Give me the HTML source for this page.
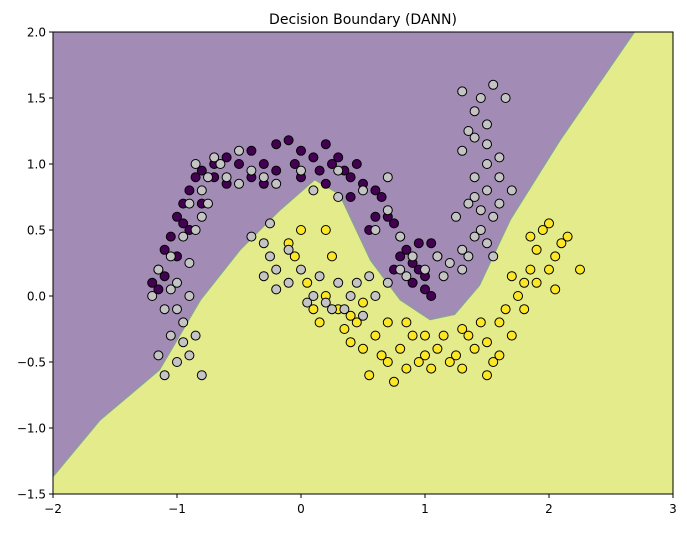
<!DOCTYPE html>
<html><head><meta charset="utf-8"><style>
body{margin:0;background:#fff;}
svg text{font-family:"DejaVu Sans","Liberation Sans",sans-serif;}
</style></head><body>
<svg id="chart" width="687" height="528"></svg>
<script>
const xTicks=[-2,-1,0,1,2,3];
const yTicks=[-1.5,-1.0,-0.5,0.0,0.5,1.0,1.5,2.0];
const boundaryX=[-2,-1.62,-1.14,-0.81,-0.49,-0.17,0.11,0.31,0.56,0.80,1.04,1.24,1.44,1.69,2.09,2.69];
const boundaryY=[-1.37,-0.94,-0.56,-0.03,0.35,0.65,0.88,0.77,0.27,-0.03,-0.18,-0.14,0.08,0.58,1.18,2.0];
const purplePts=[[-1.2,0.1],[-1.15,0.2],[-1.1,0.35],[-1.05,0.45],[-1.0,0.6],[-0.95,0.7],[-0.9,0.8],[-0.85,0.9],[-0.8,0.95],[-0.7,1.0],[-0.6,1.05],[-0.5,1.0],[-0.4,1.1],[-0.3,1.0],[-0.2,1.15],[-0.1,1.18],[0.0,1.1],[0.1,1.05],[0.2,1.15],[0.25,1.0],[0.35,0.95],[0.4,0.9],[0.5,0.85],[0.6,0.8],[0.65,0.75],[0.7,0.6],[0.75,0.55],[0.8,0.45],[0.85,0.35],[0.9,0.25],[0.95,0.2],[1.0,0.15],[1.05,0.4],[1.1,0.3],[1.0,0.05],[0.9,0.1],[-1.1,0.15],[-1.0,0.3],[-0.9,0.5],[-0.8,0.7],[-0.6,0.85],[-0.4,0.9],[-0.2,0.95],[0.0,0.9],[0.2,0.85],[0.4,0.75],[0.6,0.6],[0.8,0.3],[-0.05,1.0],[-0.3,0.85],[0.15,0.95],[0.55,0.5],[0.95,0.4],[-1.15,0.05],[-0.95,0.55],[-0.7,0.9],[0.3,1.05],[0.45,1.0],[0.75,0.2],[1.05,0.0]];
const yellowPts=[[0.0,0.5],[-0.1,0.4],[-0.05,0.3],[0.05,0.1],[0.1,-0.1],[0.15,-0.2],[0.2,0.5],[0.25,0.3],[0.3,-0.1],[0.35,-0.25],[0.4,-0.35],[0.45,-0.2],[0.5,-0.4],[0.55,-0.6],[0.6,-0.3],[0.65,-0.45],[0.7,-0.5],[0.75,-0.65],[0.8,-0.4],[0.85,-0.55],[0.9,-0.3],[0.95,-0.5],[1.0,-0.45],[1.05,-0.55],[1.1,-0.4],[1.15,-0.3],[1.2,-0.5],[1.25,-0.45],[1.3,-0.55],[1.35,-0.3],[1.4,-0.4],[1.45,-0.2],[1.5,-0.35],[1.55,-0.5],[1.6,-0.2],[1.65,-0.1],[1.7,-0.3],[1.75,0.0],[1.8,0.1],[1.85,0.2],[1.9,0.35],[1.95,0.5],[2.0,0.55],[2.05,0.3],[2.1,0.4],[2.15,0.45],[2.25,0.2],[1.9,0.1],[2.0,0.2],[1.8,-0.1],[1.6,-0.45],[1.3,-0.25],[0.85,-0.2],[0.5,-0.05],[0.2,0.0],[1.5,-0.6],[0.7,-0.2],[1.0,-0.3],[1.7,0.15],[2.05,0.05],[1.85,0.45],[0.4,-0.15]];
const grayPts=[[-1.1,-0.6],[-1.0,-0.5],[-0.9,-0.45],[-0.8,-0.6],[-1.05,-0.3],[-0.95,-0.2],[-1.1,-0.1],[-1.2,0.0],[-0.9,0.0],[-1.0,0.1],[-1.15,0.2],[-1.05,0.3],[-0.9,0.25],[-0.95,0.45],[-0.85,0.5],[-0.8,0.6],[-0.9,0.7],[-0.8,0.8],[-0.75,0.9],[-0.85,1.0],[-0.7,1.05],[-0.6,0.9],[-0.5,1.1],[-0.5,0.85],[-0.3,0.9],[-0.4,0.95],[-0.2,0.85],[-1.0,-0.1],[-1.05,0.05],[-0.95,-0.35],[-1.15,-0.45],[-0.85,-0.3],[-0.75,0.7],[-0.65,1.0],[-0.3,0.4],[-0.2,0.2],[-0.25,0.3],[-0.1,0.35],[-0.2,0.05],[-0.1,0.1],[0.0,0.2],[0.1,0.0],[0.15,0.15],[0.2,-0.05],[0.3,0.1],[0.35,-0.1],[0.4,0.0],[0.45,0.1],[0.5,-0.15],[0.6,0.0],[0.7,0.1],[0.8,0.2],[0.85,0.15],[0.9,0.3],[1.0,0.2],[1.1,0.3],[1.2,0.25],[1.3,0.35],[1.35,0.3],[1.4,0.45],[1.45,0.5],[1.5,0.4],[1.55,0.6],[1.6,0.7],[1.5,0.8],[1.4,0.9],[1.3,1.1],[1.5,1.0],[1.6,1.05],[1.4,1.2],[1.5,1.3],[1.45,1.5],[1.55,1.6],[1.3,1.55],[1.4,1.4],[1.65,1.5],[1.35,0.7],[1.25,0.6],[1.45,0.65],[1.55,0.3],[1.7,0.8],[0.3,0.75],[0.1,0.8],[0.5,0.8],[0.7,0.65],[0.6,0.5],[0.8,0.45],[0.0,0.95],[0.3,0.95],[0.7,0.9],[0.55,0.15],[0.25,-0.1],[1.15,0.15],[1.3,0.2],[1.4,0.75],[1.6,0.9],[1.35,1.25],[1.5,1.15],[-0.4,0.45],[-0.3,0.15],[-0.25,0.55],[0.05,-0.05]];

const L=53,R=673,T=32,B=494,x0=-2,x1=3,y0=-1.5,y1=2.0;
const sx=v=>L+(v-x0)/(x1-x0)*(R-L);
const sy=v=>B-(v-y0)/(y1-y0)*(B-T);
const svg=document.getElementById('chart');
const NS='http://www.w3.org/2000/svg';
function mk(tag,attrs,parent){const e=document.createElementNS(NS,tag);for(const k in attrs)e.setAttribute(k,attrs[k]);(parent||svg).appendChild(e);return e;}

const bg=mk('rect',{x:L,y:T,width:R-L,height:B-T,fill:'#e4eb8b'});


const reg=mk('path',{d:'M'+L+','+T+' L'+sx(boundaryX[0])+','+sy(boundaryY[0])+boundaryX.slice(1).map((v,i)=>' L'+sx(v)+','+sy(boundaryY[i+1])).join('')+' Z',fill:'#a28bb4',stroke:'#7fa88f','stroke-width':1,'stroke-linejoin':'round'});



function drawPts(arr,fill,name){
  const g=mk('g',{});
  
  
  arr.forEach(p=>{
    const c=mk('circle',{cx:sx(p[0]),cy:sy(p[1]),r:4.5,fill:fill,stroke:'#000','stroke-width':1},g);
    
    
  });
}
drawPts(purplePts,'#440154','source-class-0');
drawPts(yellowPts,'#fde725','source-class-1');
drawPts(grayPts,'#c4c4c4','target-domain');

const fr=mk('rect',{x:L,y:T,width:R-L,height:B-T,fill:'none',stroke:'#000','stroke-width':1});



xTicks.forEach(v=>{
  mk('line',{x1:sx(v),x2:sx(v),y1:B,y2:B+4,stroke:'#000'});
  const t=mk('text',{x:sx(v),y:B+19,'text-anchor':'middle','font-size':12});
  t.textContent=v<0?'\u2212'+(-v):v;
  
  
});
yTicks.forEach(v=>{
  mk('line',{x1:L-4,x2:L,y1:sy(v),y2:sy(v),stroke:'#000'});
  const t=mk('text',{x:L-7,y:sy(v)+4.5,'text-anchor':'end','font-size':12});
  t.textContent=v<0?'\u2212'+(-v).toFixed(1):v.toFixed(1);
  
  
});
const title=mk('text',{x:(L+R)/2,y:24,'text-anchor':'middle','font-size':14});
title.textContent='Decision Boundary (DANN)';


</script>
</body></html>
